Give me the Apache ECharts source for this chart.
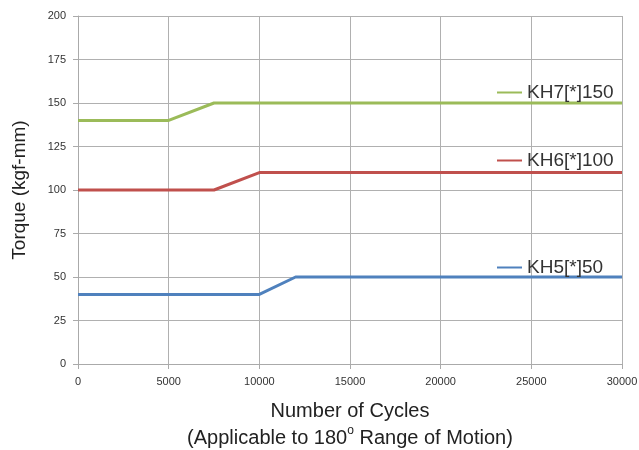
<!DOCTYPE html>
<html>
<head>
<meta charset="utf-8">
<script src="https://cdn.jsdelivr.net/npm/echarts@6/dist/echarts.min.js"></script>
<style>
  html, body { margin: 0; padding: 0; background: #fff; }
  #chart { width: 639px; height: 450px; }
</style>
</head>
<body>
<div id="chart"></div>
<script>
// data
var seriesNames = ["KH7[*]150", "KH6[*]100", "KH5[*]50"];
var cyclesKH7 = [0, 5000, 7500, 30000];
var torqueKH7 = [140, 140, 150, 150];
var cyclesKH6 = [0, 7500, 10000, 30000];
var torqueKH6 = [100, 100, 110, 110];
var cyclesKH5 = [0, 10000, 12000, 30000];
var torqueKH5 = [40, 40, 50, 50];
var colors = ["#9bbb59", "#c0504d", "#4f81bd"];

function pairs(xs, ys) {
  return xs.map(function (x, i) { return [x, ys[i]]; });
}

var chart = echarts.init(document.getElementById("chart"));
var font = "Liberation Sans, Helvetica, Arial, sans-serif";

var legendTops = [78, 146, 253];
var legendLefts = [492, 492, 492];

var option = {
  animation: false,
  grid: { left: 78, right: 17, top: 16, bottom: 86, outerBoundsMode: "none", containLabel: false },
  legend: seriesNames.map(function (n, i) {
    return {
      data: [n],
      left: legendLefts[i],
      top: legendTops[i],
      icon: "rect",
      itemWidth: 25,
      itemHeight: 2,
      itemGap: 0,
      textStyle: { fontSize: 19, color: "#333", fontFamily: font }
    };
  }),
  xAxis: {
    type: "value",
    min: 0,
    max: 30000,
    interval: 5000,
    name: "{a|Number of Cycles}\n{a|(Applicable to 180}{sup|o}{a| Range of Motion)}",
    nameLocation: "middle",
    nameGap: 34,
    nameTextStyle: {
      verticalAlign: "top",
      rich: {
        a: { fontSize: 20, color: "#222", fontFamily: font, lineHeight: 27 },
        sup: { fontSize: 12, color: "#222", fontFamily: font, verticalAlign: "top", lineHeight: 27, padding: [0, 0, 10, 0] }
      }
    },
    axisLine: { show: true, lineStyle: { color: "#aaa", width: 1 } },
    axisTick: { show: true, length: 5, lineStyle: { color: "#aaa" } },
    axisLabel: {
      fontSize: 11, color: "#333", margin: 12, fontFamily: font,
      formatter: function (v) { return String(v); }
    },
    splitLine: { show: true, lineStyle: { color: "#b0b0b0", width: 1 } }
  },
  yAxis: {
    type: "value",
    min: 0,
    max: 200,
    interval: 25,
    name: "Torque (kgf-mm)",
    nameLocation: "middle",
    nameGap: 49,
    nameTextStyle: { fontSize: 19, color: "#222", fontFamily: font },
    axisLine: { show: true, lineStyle: { color: "#aaa", width: 1 } },
    axisTick: { show: true, length: 5, lineStyle: { color: "#aaa" } },
    axisLabel: { fontSize: 11, color: "#333", margin: 12, fontFamily: font },
    splitLine: { show: true, lineStyle: { color: "#b0b0b0", width: 1 } }
  },
  series: [
    { name: seriesNames[0], data: pairs(cyclesKH7, torqueKH7) },
    { name: seriesNames[1], data: pairs(cyclesKH6, torqueKH6) },
    { name: seriesNames[2], data: pairs(cyclesKH5, torqueKH5) }
  ].map(function (s, i) {
    return {
      name: s.name,
      type: "line",
      data: s.data,
      symbol: "none",
      color: colors[i],
      lineStyle: { color: colors[i], width: 3 }
    };
  })
};

chart.setOption(option);
</script>
</body>
</html>
